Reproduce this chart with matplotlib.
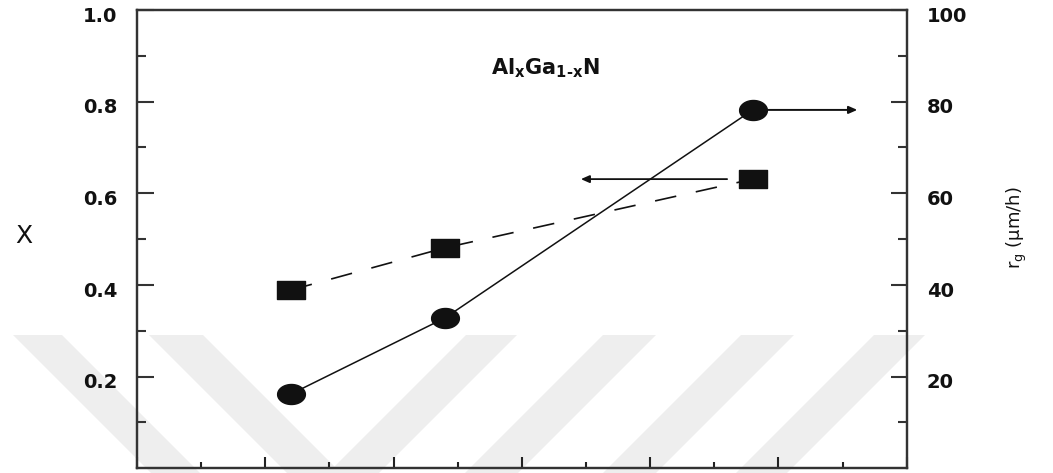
import numpy as np
import matplotlib
matplotlib.use("Agg")
import matplotlib.pyplot as plt
import matplotlib.transforms as mtransforms
from matplotlib.path import Path
from matplotlib.patches import Polygon
from matplotlib.ticker import FixedLocator, MultipleLocator

# ---- data -------------------------------------------------------------
x_pos = [2.4, 4.8, 9.6]                 # sample positions on the (unlabelled) x scale
al_fraction = [0.389, 0.481, 0.631]     # Al mole fraction X (left axis, squares)
growth_rate = [16.2, 32.8, 78.2]        # growth rate r_g in um/h (right axis, circles)

left_ticks = [0.2, 0.4, 0.6, 0.8, 1.0]
left_labels = ["0.2", "0.4", "0.6", "0.8", "1.0"]
right_ticks = [20, 40, 60, 80, 100]
right_labels = ["20", "40", "60", "80", "100"]

# ---- figure -----------------------------------------------------------
W, H, DPI = 1053, 473, 100
plt.rcParams["font.family"] = ["DejaVu Sans"]
plt.rcParams["mathtext.fontset"] = "dejavusans"
fig = plt.figure(figsize=(W / DPI, H / DPI), dpi=DPI)
fig.patch.set_facecolor("white")

# faint diagonal background stripes along the bottom
px = mtransforms.Affine2D().scale(1, -1).translate(0, H)
y_top, y_bot = 335, 480
drop = y_bot - y_top
stripe_col = "#eeeeee"
for x0, x1 in [(13, 62), (149, 203)]:
    fig.patches.append(Polygon([(x0, y_top), (x1, y_top), (x1 + drop, y_bot), (x0 + drop, y_bot)],
                               closed=True, transform=px, facecolor=stripe_col,
                               edgecolor="none", zorder=-1))
for x0, x1 in [(466, 517), (603, 656), (741, 794), (874, 925)]:
    fig.patches.append(Polygon([(x0, y_top), (x1, y_top), (x1 - drop, y_bot), (x0 - drop, y_bot)],
                               closed=True, transform=px, facecolor=stripe_col,
                               edgecolor="none", zorder=-1))

ax = fig.add_axes([137 / W, 1 - 468.3 / H, (906.7 - 137) / W, (468.3 - 10) / H])
ax.set_facecolor("none")
ax2 = ax.twinx()
ax2.set_facecolor("none")

# slightly flattened marker shapes
theta = np.linspace(0, 2 * np.pi, 73)
oval = Path(np.column_stack([np.cos(theta), 0.72 * np.sin(theta)]), closed=True)
block = Path([(-1, -0.7), (1, -0.7), (1, 0.7), (-1, 0.7), (-1, -0.7)], closed=True)

ink = "#111111"
ax.plot(x_pos, al_fraction, color=ink, lw=1.2, dashes=(13, 12),
        marker=block, markersize=19.5, markerfacecolor=ink, markeredgecolor=ink)
ax2.plot(x_pos, growth_rate, color=ink, lw=1.1,
         marker=oval, markersize=20, markerfacecolor=ink, markeredgecolor=ink)

# arrows pointing each series to its own axis
head = "-|>,head_length=0.5,head_width=0.22"
ax2.annotate("", xy=(11.23, growth_rate[2]), xytext=(x_pos[2] + 0.24, growth_rate[2]),
             arrowprops=dict(arrowstyle=head, color=ink, lw=1.4, shrinkA=0, shrinkB=0))
ax.annotate("", xy=(6.92, al_fraction[2]), xytext=(x_pos[2] - 0.4, al_fraction[2]),
            arrowprops=dict(arrowstyle=head, color=ink, lw=1.3, shrinkA=0, shrinkB=0))

# ---- axes -------------------------------------------------------------
ax.set_xlim(0, 12)
ax.set_ylim(0, 1.0)
ax2.set_ylim(0, 100)

tick_font = dict(fontsize=14, fontweight="bold", color="#111111")
ax.yaxis.set_major_locator(FixedLocator(left_ticks))
ax.set_yticklabels(left_labels, **tick_font)
ax.yaxis.set_minor_locator(FixedLocator([0.1, 0.3, 0.5, 0.7, 0.9]))
ax2.yaxis.set_major_locator(FixedLocator(right_ticks))
ax2.set_yticklabels(right_labels, **tick_font)
ax2.yaxis.set_minor_locator(FixedLocator([10, 30, 50, 70, 90]))

ax.xaxis.set_major_locator(MultipleLocator(2))
ax.xaxis.set_minor_locator(MultipleLocator(1))
ax.tick_params(axis="x", which="both", direction="in", labelbottom=False, width=1.5, color="#222222")
ax.tick_params(axis="x", which="major", length=8)
ax.tick_params(axis="x", which="minor", length=4)
ax.tick_params(axis="y", which="both", direction="in", width=1.5, color="#333333", pad=14)
ax.tick_params(axis="y", which="major", length=12.5)
ax.tick_params(axis="y", which="minor", length=6.5)
ax2.tick_params(axis="y", which="both", direction="in", width=1.5, color="#333333", pad=14.5)
ax2.tick_params(axis="y", which="major", length=11.5)
ax2.tick_params(axis="y", which="minor", length=6.5)

shift = mtransforms.ScaledTranslation(0, -3 / 72, fig.dpi_scale_trans)
for lab in ax.get_yticklabels() + ax2.get_yticklabels():
    lab.set_transform(lab.get_transform() + shift)

for a in (ax, ax2):
    for sp in a.spines.values():
        sp.set_linewidth(1.6)
        sp.set_color("#333333")

ax.text(0.531, 0.873, "Al$_{\\mathbf{x}}$Ga$_{\\mathbf{1\u2010x}}$N", transform=ax.transAxes,
        ha="center", va="center", fontsize=15, fontweight="bold", color="#111111")

fig.text(24 / W, 1 - 236 / H, "X", ha="center", va="center", fontsize=18, color="#111111")
fig.text(1017 / W, 1 - 228 / H, r"r$_\mathrm{g}$ (μm/h)", rotation=90,
         ha="center", va="center", fontsize=13, color="#111111")

fig.savefig("out.png", dpi=DPI, facecolor="white")
